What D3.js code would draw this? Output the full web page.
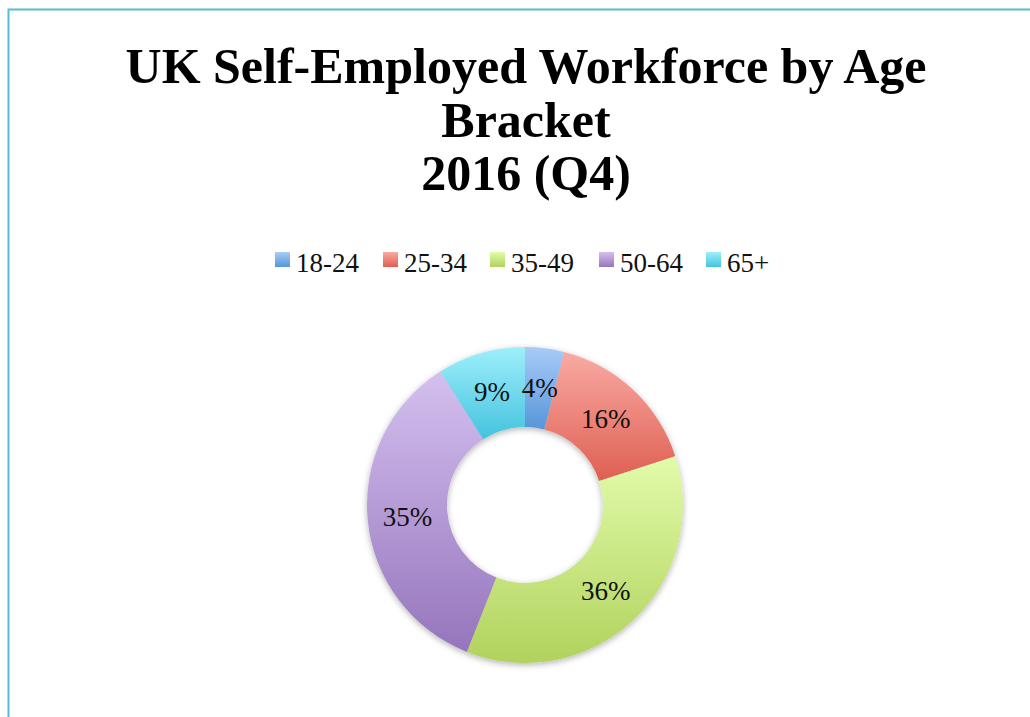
<!DOCTYPE html>
<html>
<head>
<meta charset="utf-8">
<script src="https://cdn.jsdelivr.net/npm/d3@7"></script>
<style>
  html, body { margin: 0; padding: 0; background: #fff; }
  svg { display: block; }
</style>
</head>
<body>
<div id="chart"></div>
<script>
// chart data
const titleLines = ["UK Self-Employed Workforce by Age", "Bracket", "2016 (Q4)"];
const categories = ["18-24", "25-34", "35-49", "50-64", "65+"];
const shares = [4, 16, 36, 35, 9];
const lightColors = ["#a9cbf8", "#f9aaa3", "#e2fbaa", "#d4c0ef", "#9eeffb"];
const darkColors = ["#5796d9", "#df5f52", "#b1d25d", "#9575bc", "#45c3de"];

const width = 1030, height = 717;
const cx = 525, cy = 505;
const outerR = 158, innerR = 78;

const svg = d3.select("#chart")
    .append("svg")
    .attr("width", width)
    .attr("height", height);

const defs = svg.append("defs");

// one vertical gradient per slice, like the office fill
categories.forEach((c, i) => {
    const g = defs.append("linearGradient")
        .attr("id", "grad" + i)
        .attr("x1", 0).attr("y1", 0)
        .attr("x2", 0).attr("y2", 1);
    g.append("stop").attr("offset", "0%").attr("stop-color", lightColors[i]);
    g.append("stop").attr("offset", "100%").attr("stop-color", darkColors[i]);
});

const shadow = defs.append("filter")
    .attr("id", "shadow")
    .attr("x", "-20%").attr("y", "-20%")
    .attr("width", "140%").attr("height", "140%");
shadow.append("feDropShadow")
    .attr("dx", 0).attr("dy", 2)
    .attr("stdDeviation", 3)
    .attr("flood-color", "#000")
    .attr("flood-opacity", 0.3);

// frame (only top and left show)
svg.append("rect")
    .attr("x", 8.5).attr("y", 9.5)
    .attr("width", width + 20).attr("height", height + 20)
    .attr("fill", "none")
    .attr("stroke", "#5bbad6")
    .attr("stroke-width", 2);

// title
svg.append("text")
    .attr("text-anchor", "middle")
    .style("font-family", "'Liberation Serif', serif")
    .style("font-weight", "bold")
    .style("font-size", "50px")
    .selectAll("tspan")
    .data(titleLines)
    .join("tspan")
    .attr("x", 526)
    .attr("y", (d, i) => 83 + i * 53.5)
    .text(d => d);

// legend
const legendX = [275, 383, 490, 599, 706];
const legend = svg.append("g")
    .selectAll("g")
    .data(categories)
    .join("g")
    .attr("transform", (d, i) => `translate(${legendX[i]},252)`);

legend.append("rect")
    .attr("width", 15).attr("height", 15)
    .attr("fill", (d, i) => `url(#grad${i})`);

legend.append("text")
    .attr("x", 21).attr("y", 19.5)
    .style("font-family", "'Liberation Serif', serif")
    .style("font-size", "27px")
    .attr("fill", "#111")
    .text(d => d);

// donut
const pie = d3.pie().sort(null).value(d => d);
const arc = d3.arc().innerRadius(innerR).outerRadius(outerR);
const arcs = pie(shares);

const donut = svg.append("g")
    .attr("transform", `translate(${cx},${cy})`);

donut.append("g")
    .attr("filter", "url(#shadow)")
    .selectAll("path")
    .data(arcs)
    .join("path")
    .attr("d", arc)
    .attr("fill", (d, i) => `url(#grad${i})`);

const total = d3.sum(shares);
donut.selectAll("text.lbl")
    .data(arcs)
    .join("text")
    .attr("class", "lbl")
    .attr("transform", d => `translate(${arc.centroid(d)})`)
    .attr("text-anchor", "middle")
    .attr("dy", "0.35em")
    .style("font-family", "'Liberation Serif', serif")
    .style("font-size", "27px")
    .attr("fill", "#111")
    .text(d => Math.round(d.data / total * 100) + "%");
</script>
</body>
</html>
